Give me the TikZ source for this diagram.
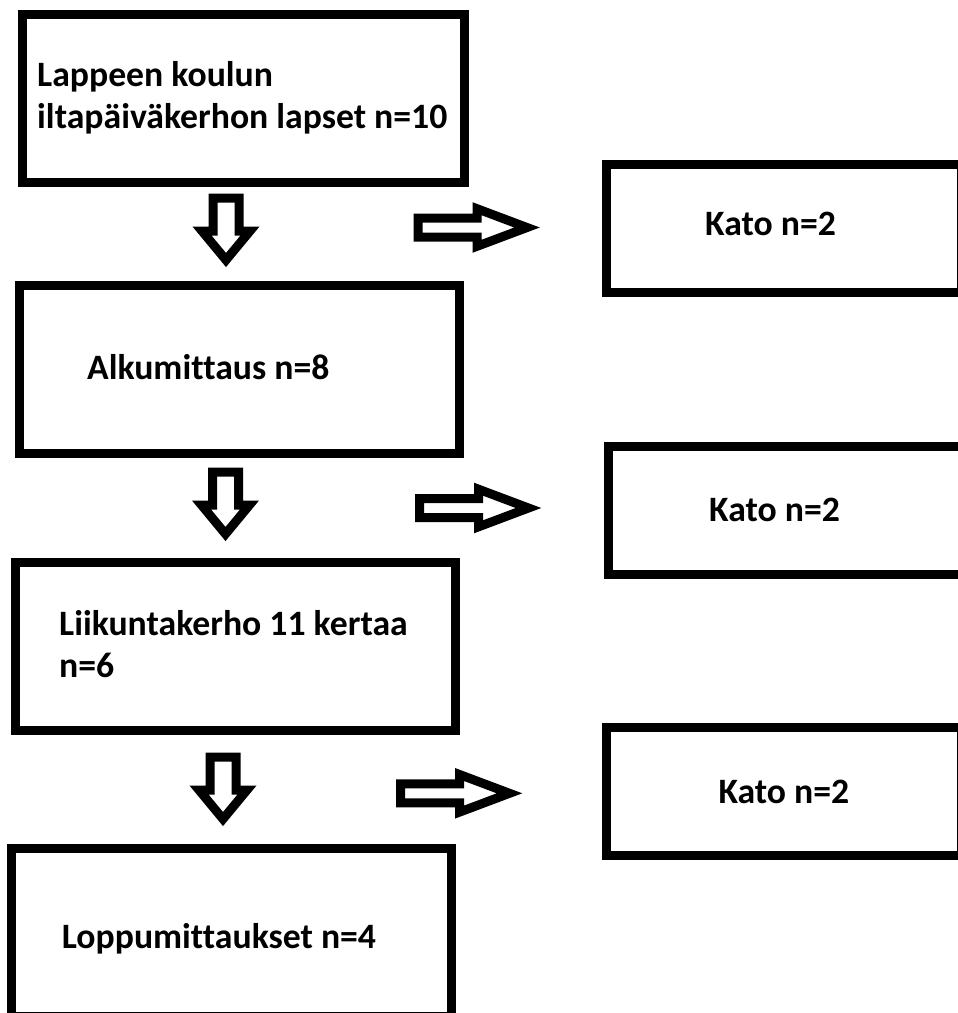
\documentclass[tikz,border=0pt]{standalone}
\usepackage{fontspec}
\setmainfont[Ligatures=NoCommon]{Carlito}
\usepackage{tikz}

\begin{document}
\begin{tikzpicture}[x=1pt,y=-1pt,
		box/.style={draw, line width=9pt, minimum width=440pt, minimum height=168pt, inner sep=0pt},
		katobox/.style={box, minimum width=355pt, minimum height=128pt},
		lbl/.style={anchor=base west, align=left, inner sep=0pt, font=\bfseries\fontsize{35.7}{42}\selectfont},
		downarr/.pic={\draw[line width=9pt] (-13,0) -- (-13,33) -- (-24,33) -- (0,62) -- (24,33) -- (13,33) -- (13,0) -- cycle;},
		rightarr/.pic={\draw[line width=9pt] (0,-9.5) -- (59,-9.5) -- (59,-18.8) -- (109,0) -- (59,18.8) -- (59,9.5) -- (0,9.5) -- cycle;}]
		\useasboundingbox (0,0) rectangle (958,1013);
		\clip (0,0) rectangle (958,1013);
		
		% vasen sarake
		\node [box, minimum width=441.5pt] (alku) at (243.25,98.75) {};
		\node [lbl] (alkut) at (37,128) {Lappeen koulun\\iltapäiväkerhon lapset n=10};
		\node [box] (mitt) at (239,369.5) {};
		\node [lbl] (mittt) at (87,379) {Alkumittaus n=8};
		\node [box] (kerho) at (235.5,646.3) {};
		\node [lbl] (kerhot) at (59,677) {Liikuntakerho 11 kertaa\\n=6};
		\node [box] (loppu) at (231.6,932) {};
		\node [lbl] (loppút) at (61.7,948) {Loppumittaukset n=4};
		
		% kadot
		\node [katobox] (kato1) at (784.2,228.3) {};
		\node [lbl] (kato1t) at (705,235) {Kato n=2};
		\node [katobox] (kato2) at (785.8,510) {};
		\node [lbl] (kato2t) at (709,521) {Kato n=2};
		\node [katobox] (kato3) at (784.2,791.3) {};
		\node [lbl] (kato3t) at (718.3,803.3) {Kato n=2};
		
		% nuolet
		\pic (ala1) at (226,198) {downarr};
		\pic (ala2) at (225.5,472) {downarr};
		\pic (ala3) at (223,757) {downarr};
		\pic (oik1) at (418,227.5) {rightarr};
		\pic (oik2) at (419.5,508) {rightarr};
		\pic (oik3) at (400.5,793.3) {rightarr};
\end{tikzpicture}
\end{document}
